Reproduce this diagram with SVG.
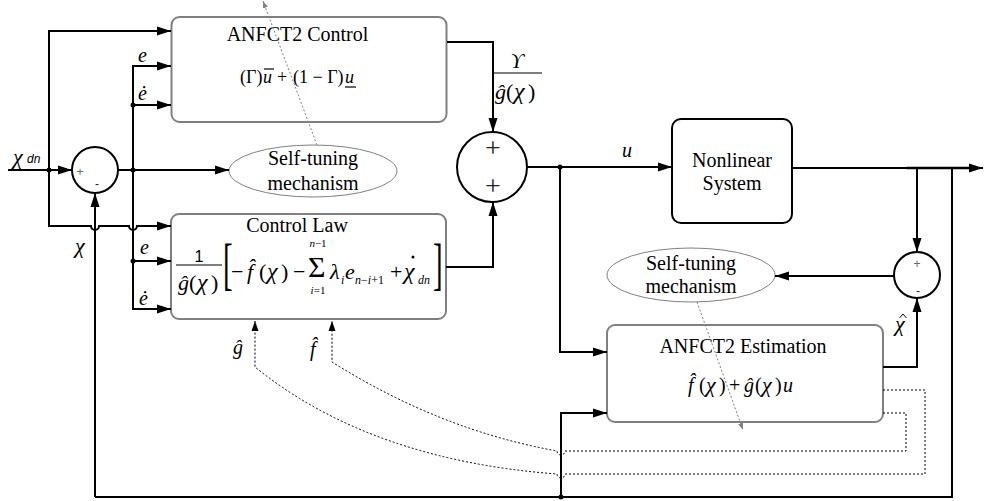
<svg xmlns="http://www.w3.org/2000/svg" width="985" height="501" viewBox="0 0 985 501" font-family="'Liberation Serif', serif">
<style>
.t{font-family:"Liberation Serif","Times New Roman",serif;font-size:20px;fill:#000}
.i{font-style:italic}
.s{font-family:"Liberation Sans",Arial,sans-serif}
.c{font-size:24px}
.ln{fill:none;stroke:#000;stroke-width:2}
.box{fill:#fff;stroke:#808080;stroke-width:2}
.bbox{fill:#fff;stroke:#000;stroke-width:2}
.sum{fill:#fff;stroke:#000;stroke-width:2}
.ell{fill:#fff;stroke:#808080;stroke-width:1}
.dash{fill:none;stroke:#000;stroke-width:1;stroke-dasharray:2 2}
.gdash{fill:none;stroke:#808080;stroke-width:1;stroke-dasharray:2 2}
.bar{stroke:#000;stroke-width:1.2}
.acc{fill:none;stroke:#000;stroke-width:1}
.sg{font-family:"Liberation Sans",Arial,sans-serif;font-size:12px;fill:#666;text-anchor:middle}
</style>
<defs>
<marker id="ah" markerUnits="userSpaceOnUse" viewBox="0 0 14 10" markerWidth="14" markerHeight="10" refX="14" refY="5" orient="auto"><path d="M0,0.5 L14,5 L0,9.5z" fill="#000"/></marker>
<marker id="as" markerUnits="userSpaceOnUse" viewBox="0 0 10 8" markerWidth="10" markerHeight="8" refX="10" refY="4" orient="auto"><path d="M0,0.5 L10,4 L0,7.5z" fill="#000"/></marker>
<marker id="ag" markerUnits="userSpaceOnUse" viewBox="0 0 7 6" markerWidth="7" markerHeight="6" refX="7" refY="3" orient="auto"><path d="M0,0.5 L7,3 L0,5.5z" fill="#808080"/></marker>
</defs>
<rect width="985" height="501" fill="#fff"/>

<g id="anfct2-control">
<rect class="box" x="171.5" y="17" width="275" height="105" rx="8"/>
<text class="t" x="297.5" y="41" text-anchor="middle">ANFCT2 Control</text>
<text class="t" x="240" y="83" style="font-size:18px">(Γ)</text>
<text class="t i" x="263" y="83" style="font-size:18px">u</text>
<line class="bar" x1="264" y1="69" x2="274" y2="69"/>
<text class="t" x="282" y="83" style="font-size:18px" text-anchor="middle">+</text>
<text class="t" x="293" y="83" style="font-size:18px">(1 − Γ)</text>
<text class="t i" x="345" y="83" style="font-size:18px">u</text>
<line class="bar" x1="345" y1="87" x2="356" y2="87"/>
</g>

<g id="control-law">
<rect class="box" x="171" y="214" width="275" height="105" rx="8"/>
<text class="t" x="297" y="232" text-anchor="middle">Control Law</text>
<text class="t s" x="199" y="262" text-anchor="middle" style="font-size:16px">1</text>
<line class="bar" x1="176" y1="265" x2="222" y2="265"/>
<text class="t" y="290" style="font-size:22px"><tspan class="i" x="178">ĝ</tspan><tspan x="189">(</tspan><tspan class="i c" x="197">χ</tspan><tspan x="211">)</tspan></text>
<text class="t" transform="translate(223,283) scale(0.5,1)" style="font-size:58px">[</text>
<text class="t" y="279" style="font-size:22px"><tspan x="231">−</tspan><tspan class="i" x="247">f̂</tspan><tspan x="259">(</tspan><tspan class="i c" x="267">χ</tspan><tspan x="281">)</tspan><tspan x="293">−</tspan></text>
<text class="t" x="308" y="277" style="font-size:30px">Σ</text>
<text class="t" x="318" y="247" text-anchor="middle" style="font-size:11px"><tspan class="i">n</tspan>−1</text>
<text class="t" x="318" y="294" text-anchor="middle" style="font-size:11px"><tspan class="i">i</tspan>=1</text>
<text class="t i" x="330" y="279" style="font-size:22px">λ</text>
<text class="t i" x="341" y="284" style="font-size:12px">i</text>
<text class="t i" x="345" y="279" style="font-size:22px">e</text>
<text class="t" x="355" y="284" style="font-size:12px"><tspan class="i">n</tspan>−<tspan class="i">i</tspan>+1</text>
<text class="t" x="390" y="279" style="font-size:22px">+</text>
<text class="t i c" x="404" y="279">χ</text>
<circle cx="413" cy="257" r="1.5"/>
<text class="t i" x="418" y="284" style="font-size:12px">dn</text>
<text class="t" transform="translate(433,283) scale(0.5,1)" style="font-size:58px">]</text>
</g>

<g id="sum-left">
<circle class="sum" cx="95" cy="170" r="23"/>
<text class="sg" x="80" y="176">+</text>
<text class="sg" x="97" y="188" style="fill:#222">-</text>
</g>

<g id="sum-main">
<circle class="sum" cx="492" cy="167" r="35"/>
<text class="t" x="493" y="157" text-anchor="middle" style="font-size:28px;fill:#222">+</text>
<text class="t" x="493" y="195" text-anchor="middle" style="font-size:28px;fill:#222">+</text>
</g>

<g id="sum-right">
<circle class="sum" cx="917" cy="275" r="23"/>
<text class="sg" x="917" y="268">+</text>
<text class="sg" x="918" y="295" style="fill:#222">-</text>
</g>

<g id="self-tuning-left">
<ellipse class="ell" cx="313" cy="171" rx="84" ry="26"/>
<text class="t" x="313" y="165" text-anchor="middle">Self-tuning</text>
<text class="t" x="313" y="190" text-anchor="middle">mechanism</text>
</g>

<g id="self-tuning-right">
<ellipse class="ell" cx="691" cy="275" rx="84" ry="27"/>
<text class="t" x="691" y="270" text-anchor="middle">Self-tuning</text>
<text class="t" x="691" y="293" text-anchor="middle">mechanism</text>
</g>

<g id="nonlinear-system">
<rect class="bbox" x="672" y="119" width="120" height="104" rx="9"/>
<text class="t" x="732" y="167" text-anchor="middle">Nonlinear</text>
<text class="t" x="732" y="190" text-anchor="middle">System</text>
</g>

<g id="anfct2-estimation">
<rect class="box" x="607" y="325" width="276" height="97" rx="8"/>
<text class="t" x="743" y="353" text-anchor="middle">ANFCT2 Estimation</text>
<text class="t" y="392"><tspan class="i" x="688">f̂</tspan><tspan x="699">(</tspan><tspan class="i" x="706" style="font-size:22px">χ</tspan><tspan x="719">)</tspan><tspan x="729">+</tspan><tspan class="i" x="744">ĝ</tspan><tspan x="755">(</tspan><tspan class="i" x="762" style="font-size:22px">χ</tspan><tspan x="775">)</tspan><tspan class="i" x="783">u</tspan></text>
</g>

<g id="connectors">
<path class="ln" d="M8,170 H72" marker-end="url(#ah)"/>
<path class="ln" d="M49,170 V31 H171" marker-end="url(#ah)"/>
<path class="ln" d="M49,170 V226 H91 A4,4 0 0 0 99,226 H129 A4,4 0 0 0 137,226 H171" marker-end="url(#ah)"/>
<path class="ln" d="M118,170 H229" marker-end="url(#ah)"/>
<path class="ln" d="M133,170 V66 H171" marker-end="url(#ah)"/>
<path class="ln" d="M133,105 H171" marker-end="url(#ah)"/>
<path class="ln" d="M133,170 V309 H171" marker-end="url(#ah)"/>
<path class="ln" d="M133,261 H171" marker-end="url(#ah)"/>
<path class="ln" d="M95,497 V193" marker-end="url(#ah)"/>
<path class="ln" d="M95,497 H952 V168"/>
<path class="ln" d="M447,42 H493 V132" marker-end="url(#ah)"/>
<path class="ln" d="M446,267 H493 V202" marker-end="url(#ah)"/>
<path class="ln" d="M527,167 H672" marker-end="url(#ah)"/>
<path class="ln" d="M560,167 V352 H607" marker-end="url(#ah)"/>
<path class="ln" d="M561,497 V413 H607" marker-end="url(#ah)"/>
<path class="ln" d="M792,168 H983" marker-end="url(#ah)"/>
<path class="ln" d="M907,168 H970" style="stroke-width:2.6"/>
<path class="ln" d="M917,168 V252" marker-end="url(#ah)"/>
<path class="ln" d="M883,367 H917 V298" marker-end="url(#ah)"/>
<path class="ln" d="M894,276 H775" marker-end="url(#ah)"/>
<path class="dash" d="M883,413 H906 V451 H565 A4,4 0 0 1 557,451 Q440,430 332,362 V321" marker-end="url(#as)"/>
<path class="dash" d="M883,390 H925 V474 H565 A4,4 0 0 1 557,474 Q370,460 255,367 V321" marker-end="url(#as)"/>
<path class="gdash" d="M317,145 L263,1" marker-end="url(#ag)"/>
<path class="gdash" d="M697,302 L743,430" marker-end="url(#ag)"/>
<circle cx="49" cy="170" r="2.5"/>
<circle cx="133" cy="170" r="2.5"/>
<circle cx="133" cy="105" r="2.5"/>
<circle cx="133" cy="261" r="2.5"/>
<circle cx="560" cy="167" r="2.5"/>
<circle cx="561" cy="497" r="2.5"/>
</g>

<g id="labels">
<text class="t i" x="13" y="164" style="font-size:22px">χ</text>
<text class="t s i" x="27" y="163" style="font-size:12px">dn</text>
<text class="t i" x="75" y="253" style="font-size:22px">χ</text>
<text class="t i" x="138" y="62">e</text>
<text class="t i" x="138" y="100">ė</text>
<text class="t i" x="140" y="254">e</text>
<text class="t i" x="139" y="305">ė</text>
<text class="t i" x="622" y="157">u</text>
<text class="t i" x="517" y="68" text-anchor="middle">ϒ</text>
<line class="bar" x1="494" y1="73" x2="542" y2="73"/>
<text class="t" y="99" style="font-size:22px"><tspan class="i" x="495">ĝ</tspan><tspan x="506">(</tspan><tspan class="i c" x="514">χ</tspan><tspan x="528">)</tspan></text>
<text class="t i" x="895" y="331" style="font-size:22px">χ</text>
<polyline class="acc" points="899.5,318 903,314 906.5,318"/>
<text class="t i" x="233" y="354">ĝ</text>
<text class="t i" x="310" y="356">f̂</text>
</g>
</svg>
